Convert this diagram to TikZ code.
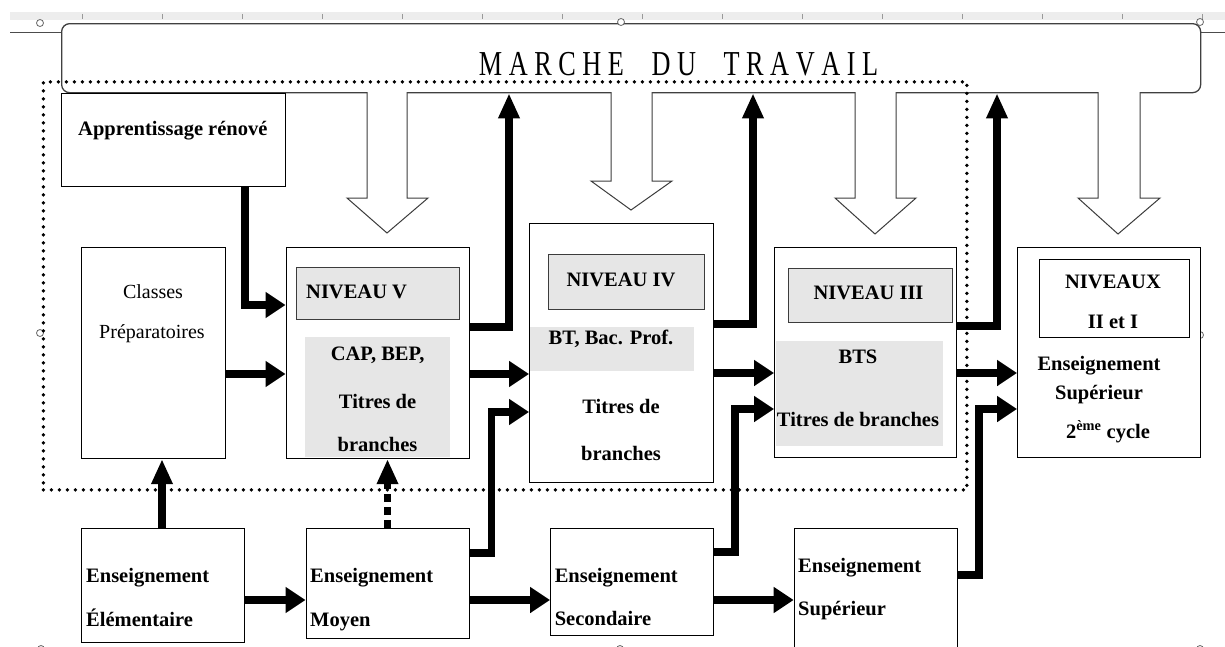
\documentclass[tikz,border=0pt]{standalone}
\usepackage{fontspec}
\setmainfont{Liberation Serif}
\usepackage{graphicx}
\usetikzlibrary{arrows.meta}
\definecolor{lgrey}{RGB}{230,230,230}
\definecolor{edgegrey}{RGB}{60,60,60}
\tikzset{
  box/.style={draw=black, line width=1.1pt, fill=white, inner sep=0pt, anchor=north west},
  labbox/.style={draw=edgegrey, line width=1.1pt, fill=lgrey, inner sep=0pt, anchor=north west},
  greyarea/.style={fill=lgrey, inner sep=0pt, anchor=north west},
  lbl/.style={font=\bfseries\fontsize{20.5}{24}\selectfont, inner sep=0pt},
  lblr/.style={font=\fontsize{20}{24}\selectfont, inner sep=0pt},
  flow/.style={line width=7.5pt, line join=miter},
  harrow/.style={flow, -{Triangle[length=20pt,width=25pt]}},
  varrow/.style={flow, -{Triangle[length=25pt,width=20pt]}},
  hollow/.style={draw=edgegrey, line width=1pt, fill=white},
  dotframe/.style={draw, line width=3.8pt, line cap=round, dash pattern=on 0pt off 8pt, inner sep=0pt, anchor=north west},
  handle/.style={draw=black!60, fill=white, line width=0.8pt, circle, inner sep=0pt, minimum size=7pt},
}
\begin{document}
\begin{tikzpicture}[x=1pt,y=-1pt]
\useasboundingbox (0,0) rectangle (1225,646);
% ruler strip
\fill[black!7] (10,12) rectangle (1225,20);
\foreach \i in {0,...,14} \draw[black!40, line width=0.8pt] ({82+80*\i},14) -- ({82+80*\i},19);
\draw[black!70, line width=1pt] (10,32) -- (61,32);
\draw[black!70, line width=1pt] (1200,32) -- (1225,32);
% market
\node[draw=black!75, line width=1.3pt, rounded corners=8pt, fill=white, inner sep=0pt, anchor=north west,
      minimum width=1139pt, minimum height=69pt] (market) at (61,23) {};
\node[inner sep=0pt, anchor=base] (title) at (678.5,75)
  {\scalebox{0.75}[1]{\fontsize{35}{40}\selectfont M A R C H E\hspace{0.8em} D U\hspace{0.8em} T R A V A I L}};
% handles
\node[handle] (h1) at (40,23) {};
\node[handle] (h2) at (621,22) {};
\node[handle] (h3) at (1200,22) {};
\node[handle] (h4) at (40,333) {};
\node[handle] (h5) at (1200,335) {};
\node[handle] (h6) at (41,649) {};
\node[handle] (h7) at (620,649) {};
\node[handle] (h8) at (1200,649) {};
% dotted zone
\node[dotframe, minimum width=923.5pt, minimum height=408pt] (zone) at (41.5,80) {};
% hollow arrows
\draw[hollow] (367,92) -- (367,198) -- (347,198) -- (387,233) -- (428,198) -- (407,198) -- (407,92);
\draw[hollow] (611,92) -- (611,181) -- (591,181) -- (631,210) -- (672,181) -- (652,181) -- (652,92);
\draw[hollow] (855,92) -- (855,198) -- (835,198) -- (875,234) -- (916,198) -- (896,198) -- (896,92);
\draw[hollow] (1098,92) -- (1098,198) -- (1078,198) -- (1118,234) -- (1160,198) -- (1140,198) -- (1140,92);
% boxes
\node[box, minimum width=224pt, minimum height=93pt] (appr) at (61,93) {};
\node[lbl, anchor=base west] (tappr) at (78,135) {Apprentissage rénové};

\node[box, minimum width=144pt, minimum height=211pt] (classes) at (81,247) {};
\node[lblr, anchor=base] (tcl1) at (153,298) {Classes};
\node[lblr, anchor=base] (tcl2) at (152,338) {Préparatoires};

\node[box, minimum width=183pt, minimum height=211pt] (nV) at (285.5,247) {};
\node[labbox, minimum width=163pt, minimum height=52pt] (nVlab) at (296,267) {};
\node[greyarea, minimum width=145.5pt, minimum height=120pt] (nVgrey) at (304.5,337) {};
\node[lbl, anchor=base west] (tnV) at (306,298) {NIVEAU V};
\node[lbl, anchor=base] (tnV1) at (377.6,360) {CAP, BEP,};
\node[lbl, anchor=base] (tnV2) at (377.6,408) {Titres de};
\node[lbl, anchor=base] (tnV3) at (377.6,451) {branches};

\node[box, minimum width=184pt, minimum height=259pt] (nIV) at (529,223) {};
\node[labbox, minimum width=156pt, minimum height=55pt] (nIVlab) at (547.6,254) {};
\node[greyarea, minimum width=164.5pt, minimum height=44pt] (nIVgrey) at (529.6,327) {};
\node[lbl, anchor=base] (tnIV) at (621,286) {NIVEAU IV};
\node[lbl, anchor=base west] (tnIV1) at (548.5,344) {BT, Bac. Prof.};
\node[lbl, anchor=base] (tnIV2) at (621,413) {Titres de};
\node[lbl, anchor=base] (tnIV3) at (621,460) {branches};

\node[box, minimum width=182pt, minimum height=210pt] (nIII) at (774,247) {};
\node[labbox, minimum width=164.4pt, minimum height=54pt] (nIIIlab) at (787.6,268) {};
\node[greyarea, minimum width=167pt, minimum height=105pt] (nIIIgrey) at (776,341) {};
\node[lbl, anchor=base] (tnIII) at (868.5,299) {NIVEAU III};
\node[lbl, anchor=base] (tnIII1) at (858,363) {BTS};
\node[lbl, anchor=base] (tnIII2) at (858,426) {Titres de branches};

\node[box, minimum width=183pt, minimum height=210pt] (nII) at (1017,247) {};
\node[box, minimum width=150pt, minimum height=78pt] (nIIlab) at (1039,259) {};
\node[lbl, anchor=base] (tnII1) at (1113,288) {NIVEAUX};
\node[lbl, anchor=base] (tnII2) at (1113,328) {II et I};
\node[lbl, anchor=base] (tnII3) at (1099,370) {Enseignement};
\node[lbl, anchor=base] (tnII4) at (1099,399) {Supérieur};
\node[lbl, anchor=base] (tnII5) at (1108,438) {2\textsuperscript{ème} cycle};

\node[box, minimum width=163pt, minimum height=114pt] (elem) at (81,528) {};
\node[lbl, anchor=base west] (te1) at (86,582) {Enseignement};
\node[lbl, anchor=base west] (te2) at (86,626) {Élémentaire};

\node[box, minimum width=163pt, minimum height=110pt] (moyen) at (305.5,528) {};
\node[lbl, anchor=base west] (tm1) at (310,582) {Enseignement};
\node[lbl, anchor=base west] (tm2) at (310,626) {Moyen};

\node[box, minimum width=163pt, minimum height=107pt] (second) at (550,528) {};
\node[lbl, anchor=base west] (ts1) at (554.6,582) {Enseignement};
\node[lbl, anchor=base west] (ts2) at (554.6,625) {Secondaire};

\node[box, minimum width=163.4pt, minimum height=130pt] (sup) at (793.6,528) {};
\node[lbl, anchor=base west] (tu1) at (798,572) {Enseignement};
\node[lbl, anchor=base west] (tu2) at (798,615) {Supérieur};

% connectors
\draw[harrow] (appr.south -| 245,0) |- (nV.west |- 0,305);
\draw[harrow] (classes.east |- 0,374) -- (nV.west |- 0,374);
\draw[varrow] (nV.east |- 0,327) -| (market.south -| 509,0);
\draw[harrow] (nV.east |- 0,374) -- (nIV.west |- 0,374);
\draw[harrow] (moyen.east |- 0,553) -- ++(22,0) |- (nIV.west |- 0,412);
\draw[varrow] (nIV.east |- 0,324) -| (market.south -| 753,0);
\draw[harrow] (nIV.east |- 0,373) -- (nIII.west |- 0,373);
\draw[harrow] (second.east |- 0,552) -- ++(21,0) |- (nIII.west |- 0,409);
\draw[varrow] (nIII.east |- 0,326) -| (market.south -| 997,0);
\draw[harrow] (nIII.east |- 0,373) -- (nII.west |- 0,373);
\draw[harrow] (sup.east |- 0,575) -- ++(21,0) |- (nII.west |- 0,409);
\draw[varrow] (elem.north -| 162,0) -- (classes.south -| 162,0);
\draw[varrow, dash pattern=on 8pt off 5pt] (moyen.north -| 387.5,0) -- (nV.south -| 387.5,0);
\draw[harrow] (elem.east |- 0,600) -- (moyen.west |- 0,600);
\draw[harrow] (moyen.east |- 0,600) -- (second.west |- 0,600);
\draw[harrow] (second.east |- 0,600) -- (sup.west |- 0,600);
\end{tikzpicture}
\end{document}
